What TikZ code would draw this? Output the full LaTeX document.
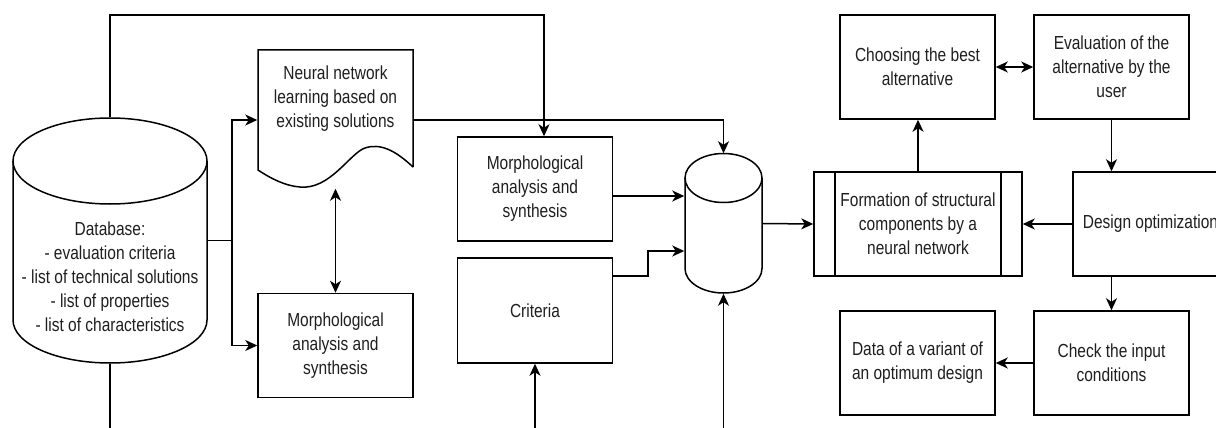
\documentclass[tikz,border=0pt]{standalone}
\usepackage{fontspec}
\setmainfont{Liberation Sans}[FakeStretch=0.82]
\usetikzlibrary{arrows.meta}
\begin{document}
\begin{tikzpicture}[x=1pt,y=-1pt,
  line width=1.5pt,
  every node/.style={font=\fontsize{18.9}{24}\selectfont, text=black!88},
  box/.style={draw, rectangle, minimum width=155pt, minimum height=104pt, align=center, inner sep=0pt},
  ghost/.style={rectangle, inner sep=0pt},
  arr/.style={-{Stealth[length=12pt,width=11pt,inset=3.5pt]}},
  darr/.style={{Stealth[length=12pt,width=11pt,inset=3.5pt]}-{Stealth[length=12pt,width=11pt,inset=3.5pt]}}
]
\useasboundingbox (0,0) rectangle (1216,428);
\fill[white] (0,0) rectangle (1216,428);

% Database cylinder
\draw[fill=white] (13,161) -- (13,320) arc[start angle=180,end angle=360,x radius=97pt,y radius=43pt] -- (207,161);
\draw (110,161) ellipse[x radius=97pt,y radius=43pt];
\node[ghost, minimum width=194pt, minimum height=245pt] (db) at (110,240.5) {};
\node[align=center] (dbtext) at (110,277) {Database:\\ - evaluation criteria\\- list of technical solutions\\ - list of properties\\ - list of characteristics};

% Document shape
\draw (413,167) -- (413,50) -- (258,50) -- (258,170)
  .. controls (270,178) and (285,186) .. (300,187)
  .. controls (330,190) and (350,153) .. (365,148)
  .. controls (380,143) and (395,150) .. (413,167);
\node[ghost, minimum width=155pt, minimum height=140pt] (doc) at (335.5,120) {};
\node[align=center] (doctext) at (335.5,99) {Neural network\\learning based on\\existing solutions};

% Boxes
\node[box] (m2) at (335.5,345.5) {Morphological\\analysis and\\synthesis};
\node[box] (m1) at (535,189) {Morphological\\analysis and\\synthesis};
\node[box, minimum height=105pt] (crit) at (535,310.5) {Criteria};

% Second cylinder
\draw[fill=white] (685,178) -- (685,268.5) arc[start angle=180,end angle=360,x radius=38.5pt,y radius=24.5pt] -- (762,178);
\draw (723.5,178) ellipse[x radius=38.5pt,y radius=24.5pt];
\node[ghost, minimum width=77pt, minimum height=139pt] (cyl) at (723.5,223.5) {};

% Subprocess
\node[box, minimum width=208pt] (sp) at (918,224) {Formation of structural\\components by a\\neural network};
\draw (835,172) -- (835,276);
\draw (1001,172) -- (1001,276);

\node[box] (choose) at (917.5,67) {Choosing the best\\alternative};
\node[box] (eval) at (1111.5,67) {Evaluation of the\\alternative by the\\user};
\node[box] (design) at (1150.5,224) {Design optimization};
\node[box] (check) at (1111.5,363) {Check the input\\conditions};
\node[box] (data) at (917.5,363) {Data of a variant of\\an optimum design};

% Coordinates
\coordinate (topL) at (110,15);
\coordinate (topR) at (544,15);
\coordinate (split) at (232,240.5);
\coordinate (dbbot) at (110,428);
\coordinate (critbot) at (535,428);
\coordinate (cylbot) at (723.5,428);
\coordinate (docout) at (413,120);
\coordinate (critout) at (613,276);
\coordinate (bend) at (648,251);

% Connectors
\draw[arr] (db.north) -- (topL) -- (topR) -- (topR |- m1.north);
\draw (db.south) -- (dbbot);
\draw (db.east |- split) -- (split);
\draw[arr] (split) |- (doc.west);
\draw[arr] (split) |- (m2.west);
\draw[darr] ([yshift=2pt]doc.south) -- (m2.north);
\draw[arr] (docout) -| (cyl.north);
\draw[arr] (m1.east |- 0,196) -- (cyl.west |- 0,196);
\draw[arr] (critout) -| (bend) -- (cyl.west |- bend);
\draw[arr] (critbot) -- (crit.south);
\draw[arr] (cylbot) -- (cyl.south);
\draw[arr] (cyl.east) -- (sp.west);
\draw[arr] (sp.north) -- (choose.south -| sp.north);
\draw[darr] (choose.east) -- (eval.west);
\draw[arr] (eval.south) -- (eval.south |- design.north);
\draw[arr] (design.west) -- (sp.east);
\draw[arr] (check.north |- design.south) -- (check.north);
\draw[arr] (check.west) -- (data.east);
\end{tikzpicture}
\end{document}
